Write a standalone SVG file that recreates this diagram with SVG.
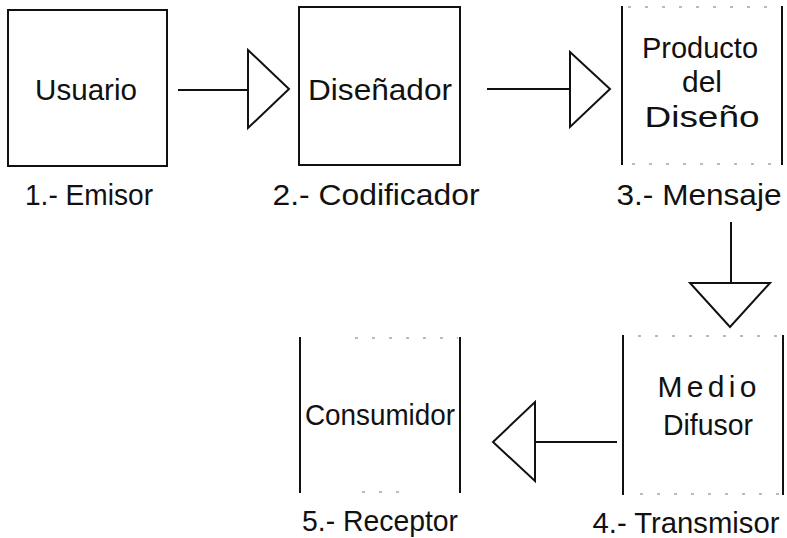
<svg xmlns="http://www.w3.org/2000/svg" width="787" height="538" viewBox="0 0 787 538">
  <style>
    .frame { fill: none; stroke: #111; stroke-width: 2; }
    .side { stroke: #111; stroke-width: 2; fill: none; }
    .faint { stroke: #777; stroke-width: 1.2; stroke-dasharray: 3 14; fill: none; }
    .wire { stroke: #111; stroke-width: 2; fill: none; }
    .head { fill: #fff; stroke: #111; stroke-width: 2; stroke-linejoin: miter; }
    text { font-family: "Liberation Sans", Arial, sans-serif; font-size: 30px; fill: #111; text-anchor: middle; }
  </style>

  <rect width="787" height="538" fill="#fff"/>

  <!-- connectors -->
  <g id="connectors">
    <line class="wire" x1="178" y1="90" x2="248" y2="90"/>
    <polygon class="head" points="248,50 289,89 248,128"/>
    <line class="wire" x1="487" y1="89" x2="570" y2="89"/>
    <polygon class="head" points="570,52 610,89 570,127"/>
    <line class="wire" x1="731" y1="222" x2="731" y2="283"/>
    <polygon class="head" points="690,283 770,283 730,327"/>
    <line class="wire" x1="617" y1="442" x2="535" y2="442"/>
    <polygon class="head" points="535,402 535,481 493,442"/>
  </g>

  <!-- 1. sender -->
  <g id="emisor">
    <rect class="frame" x="8" y="10" width="159" height="156"/>
    <text x="86" y="100" textLength="102" lengthAdjust="spacingAndGlyphs">Usuario</text>
    <text x="89" y="205" textLength="128" lengthAdjust="spacingAndGlyphs">1.- Emisor</text>
  </g>

  <!-- 2. encoder -->
  <g id="codificador">
    <rect class="frame" x="299" y="7" width="161" height="158"/>
    <text x="380" y="100" textLength="144" lengthAdjust="spacingAndGlyphs">Diseñador</text>
    <text x="376" y="205" textLength="207" lengthAdjust="spacingAndGlyphs">2.- Codificador</text>
  </g>

  <!-- 3. message -->
  <g id="mensaje">
    <line class="side" x1="622" y1="6" x2="622" y2="165"/>
    <line class="side" x1="782" y1="6" x2="782" y2="165"/>
    <line class="faint" x1="628" y1="7" x2="780" y2="7"/>
    <line class="faint" x1="632" y1="164" x2="780" y2="164"/>
    <text x="700" y="58" textLength="116" lengthAdjust="spacingAndGlyphs">Producto</text>
    <text x="702" y="92" textLength="40" lengthAdjust="spacingAndGlyphs">del</text>
    <text x="702" y="127" textLength="115" lengthAdjust="spacingAndGlyphs">Diseño</text>
    <text x="699" y="205" textLength="165" lengthAdjust="spacingAndGlyphs">3.- Mensaje</text>
  </g>

  <!-- 4. transmitter -->
  <g id="transmisor">
    <line class="side" x1="623" y1="335" x2="623" y2="495"/>
    <line class="side" x1="783" y1="335" x2="783" y2="495"/>
    <line class="faint" x1="638" y1="336" x2="780" y2="336"/>
    <line class="faint" x1="640" y1="494" x2="780" y2="494"/>
    <text x="707" y="397" textLength="99">Medio</text>
    <text x="708" y="435" textLength="90" lengthAdjust="spacingAndGlyphs">Difusor</text>
    <text x="686" y="533" textLength="187" lengthAdjust="spacingAndGlyphs">4.- Transmisor</text>
  </g>

  <!-- 5. receiver -->
  <g id="receptor">
    <line class="side" x1="300" y1="337" x2="300" y2="493"/>
    <line class="side" x1="460" y1="337" x2="460" y2="493"/>
    <line class="faint" x1="355" y1="338" x2="458" y2="338"/>
    <line class="faint" x1="362" y1="492" x2="410" y2="492"/>
    <text x="380" y="425" textLength="150" lengthAdjust="spacingAndGlyphs">Consumidor</text>
    <text x="380" y="531" textLength="156" lengthAdjust="spacingAndGlyphs">5.- Receptor</text>
  </g>
</svg>
